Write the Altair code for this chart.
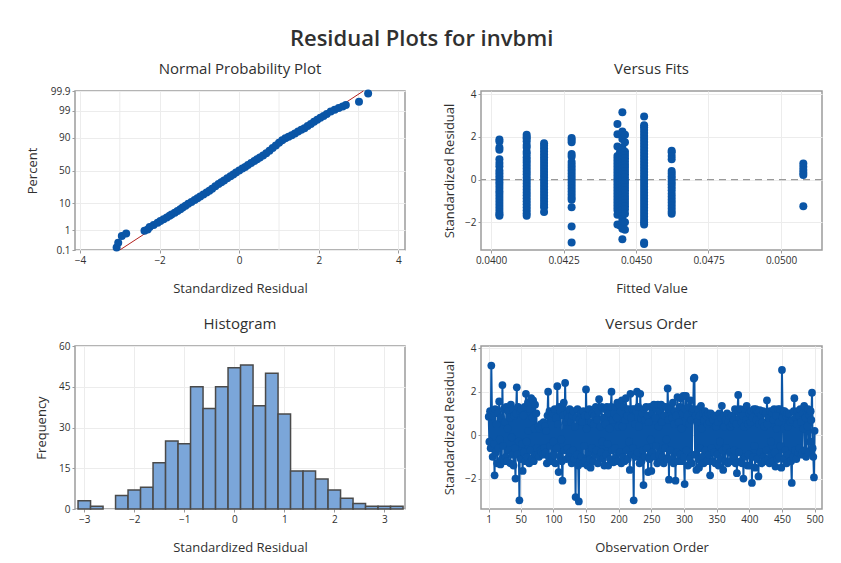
import altair as alt
import pandas as pd
from statistics import NormalDist

# ---------------- data ----------------
# Normal probability plot: standardized residual vs. percent
npp_resid = [-3.08, -3.04, -2.95, -2.84, -2.38, -2.3, -2.25, -2.15, -2.05, -1.98,
             -1.9, -1.82, -1.75, -1.7, -1.62, -1.55, -1.48, -1.42, -1.35, -1.28,
             -1.2, -1.12, -1.05, -0.98, -0.9, -0.82, -0.75, -0.68, -0.6, -0.52,
             -0.45, -0.38, -0.3, -0.22, -0.15, -0.08, 0.0, 0.08, 0.15, 0.22,
             0.3, 0.38, 0.45, 0.52, 0.6, 0.68, 0.76, 0.84, 0.92, 1.0,
             1.08, 1.16, 1.24, 1.32, 1.4, 1.48, 1.56, 1.64, 1.72, 1.8,
             1.88, 1.96, 2.04, 2.12, 2.2, 2.3, 2.4, 2.5, 2.6, 2.68,
             3.01, 3.24]
npp_pct = [0.14, 0.25, 0.54, 0.72, 0.95, 1.1, 1.4, 1.7, 2.1, 2.5,
           2.9, 3.4, 3.9, 4.4, 5.0, 5.8, 6.6, 7.5, 8.5, 9.8,
           11, 12.5, 14, 15.5, 17.5, 19.5, 21.5, 24, 27, 30,
           32.5, 35, 38, 41, 44, 47, 50, 53, 55.5, 58.5,
           61.5, 64.5, 67, 69.5, 72, 75, 78, 81, 83.5, 86,
           88, 89.5, 90.5, 91.5, 92.5, 93.5, 94.3, 95, 95.8, 96.5,
           97.1, 97.6, 98.0, 98.3, 98.6, 98.9, 99.1, 99.25, 99.35, 99.45,
           99.62, 99.86]
npp_line_resid = [-3.0, 3.12]
npp_line_pct = [0.1, 99.9]
npp_pct_ticks = [0.1, 1, 10, 50, 90, 99, 99.9]
npp_minor_grid = [-3, -1, 1, 3]

# Versus fits: one list of residuals per fitted value
vf_fits = [0.04029, 0.04123, 0.04183, 0.04278, 0.04436, 0.04445, 0.04453,
           0.04462, 0.04528, 0.04623, 0.05077]
vf_resid = [
    [1.88, 1.78, 1.5, 1.4, 0.95, 0.78, 0.62, 0.42, 0.3, 0.15, 0.02, -0.12, -0.26,
     -0.4, -0.55, -0.68, -0.82, -0.96, -1.1, -1.24, -1.38, -1.52, -1.62, -1.7],
    [2.1, 2.0, 1.92, 1.8, 1.62, 1.5, 1.3, 1.2, 1.05, 0.92, 0.8, 0.66, 0.52, 0.38,
     0.25, 0.1, -0.04, -0.18, -0.32, -0.46, -0.6, -0.74, -0.88, -1.02, -1.16,
     -1.3, -1.44, -1.58, -1.7],
    [1.7, 1.58, 1.45, 1.32, 1.18, 1.05, 0.92, 0.78, 0.64, 0.5, 0.36, 0.22, 0.08,
     -0.06, -0.2, -0.34, -0.48, -0.62, -0.76, -0.9, -1.04, -1.18, -1.3, -1.52],
    [1.95, 1.85, 1.75, 1.2, 1.08, 0.82, 0.68, 0.55, 0.42, 0.28, 0.14, 0.0, -0.14,
     -0.28, -0.42, -0.56, -0.7, -0.84, -0.95, -1.3, -2.2, -2.95],
    [2.6, 2.12, 1.55, 1.1, 0.96, 0.82, 0.68, 0.54, 0.4, 0.26, 0.12, -0.02, -0.16,
     -0.3, -0.44, -0.58, -0.72, -0.86, -1.0, -1.14, -1.28, -1.42, -1.65, -2.1],
    [1.3, 1.16, 1.02, 0.88, 0.74, 0.6, 0.46, 0.32, 0.18, 0.04, -0.1, -0.24, -0.38,
     -0.52, -0.66, -0.8, -0.94, -1.08, -1.22, -1.36, -1.5, -2.15],
    [3.15, 2.25, 1.9, 1.5, 1.36, 1.22, 1.08, 0.94, 0.8, 0.66, 0.52, 0.38, 0.24,
     0.1, -0.04, -0.18, -0.32, -0.46, -0.6, -0.74, -0.88, -1.02, -1.16, -1.3,
     -1.44, -1.58, -1.72, -1.85, -2.0, -2.3, -2.8],
    [2.1, 1.75, 1.3, 1.15, 1.0, 0.85, 0.7, 0.55, 0.4, 0.25, 0.1, -0.05, -0.2,
     -0.35, -0.5, -0.65, -0.8, -0.95, -1.1, -1.25, -1.4, -1.6, -2.0, -2.35],
    [2.95, 2.55, 2.45, 2.32, 2.18, 2.04, 1.9, 1.76, 1.62, 1.48, 1.34, 1.2, 1.06,
     0.92, 0.78, 0.64, 0.5, 0.36, 0.22, 0.08, -0.06, -0.2, -0.34, -0.48, -0.62,
     -0.76, -0.9, -1.04, -1.18, -1.32, -1.46, -1.6, -1.74, -1.88, -2.0, -2.1,
     -2.95, -3.02],
    [1.35, 1.28, 1.1, 0.95, 0.4, 0.28, 0.16, 0.04, -0.1, -0.22, -0.36, -0.5,
     -0.66, -0.8, -0.95, -1.08, -1.22, -1.36, -1.5, -1.6],
    [0.75, 0.6, 0.45, 0.32, 0.22, -1.25],
]

# Histogram: bin centres (width 0.25) and frequencies
hist_centers = [-3.0, -2.75, -2.5, -2.25, -2.0, -1.75, -1.5, -1.25, -1.0, -0.75,
                -0.5, -0.25, 0.0, 0.25, 0.5, 0.75, 1.0, 1.25, 1.5, 1.75,
                2.0, 2.25, 2.5, 2.75, 3.0, 3.25]
hist_counts = [3, 1, 0, 5, 7, 8, 17, 25, 24, 45,
               37, 45, 52, 53, 38, 50, 35, 14, 14, 11,
               7, 4, 2, 1, 1, 1]

# Versus order: standardized residual of observations 1..500
order_resid = [
    0.85, -0.3, 1.1, -0.6, 3.2, 0.9, -1.0, 1.1, -0.4, -1.85, 1.2, -0.8, 0.5, -1.3, 1.0, -0.6, 1.55, -0.2, -1.35, 0.8, -1.1, 2.3, -0.5, 1.2, -1.2,
    0.6, -1.0, 1.3, -1.2, 0.3, 1.1, -0.7, 0.8, -1.3, 1.4, -0.1, -0.9, 1.2, -1.4, 0.9, -0.6, -2.0, 1.0, 2.2, -0.9, 1.3, -0.3, -3.0, 1.1, -1.1,
    1.2, -0.4, -1.65, 0.9, -0.8, 1.3, -1.2, 1.9, -0.3, -1.0, 1.5, 0.2, -1.3, 1.2, -0.7, 1.7, -1.1, 0.8, 1.6, -1.2, 0.3, 1.4, -0.9, 1.0, -0.6,
    -0.9, 0.4, -1.0, 0.3, -0.7, 0.5, -0.8, 0.4, -0.9, 0.6, -0.6, 0.4, -0.8, 0.2, -1.3, 0.9, 2.0, -1.0, 1.1, -0.5, 0.8, -1.2, -0.95, 1.0, -0.3,
    -0.9, 1.2, -1.3, 0.8, -0.6, 2.25, 0.5, -1.7, 1.3, -1.0, 1.1, -0.2, -1.2, -2.1, 0.9, 1.5, -0.7, 2.4, 0.6, -1.1, 1.0, -0.6, 0.8, -1.0, 1.2,
    -0.8, 0.6, -1.3, 0.9, -0.7, 1.1, -1.1, 0.4, -2.85, 0.8, -0.9, 1.2, -1.4, -3.05, 0.7, -1.2, 1.0, -1.0, 0.6, -1.3, 1.1, -0.5, 0.9, -1.2, 2.1,
    0.3, -1.4, 0.9, -0.8, 1.2, -1.1, -1.5, 0.6, -0.6, 1.0, -1.2, 0.5, 0.9, -0.9, 1.3, -0.7, 0.7, -1.3, 1.1, 1.65, -1.0, 0.4, -0.8, 1.3, -0.3,
    -1.1, 0.8, -1.4, 1.2, 0.5, -0.9, 1.3, -0.4, -1.4, 1.0, 0.3, -1.1, 1.3, 2.0, -0.7, 0.7, -1.25, 1.0, -0.6, 1.3, -1.0, 0.8, 1.5, -1.2, 0.4,
    1.4, -0.8, 1.1, -1.3, 1.6, 0.4, -1.0, 1.3, -1.2, 0.7, 1.7, -0.7, 0.9, -1.1, 1.2, -0.3, -1.6, 1.9, 0.8, -0.9, 1.2, -0.6, -3.0, 1.2, 0.5,
    -1.0, 1.1, 2.0, -0.8, 1.3, 0.4, -1.3, 1.9, 0.8, -1.2, 1.0, -0.7, -2.3, 1.2, -1.0, 0.7, 1.3, -0.6, 0.9, -1.7, 0.6, -1.1, 1.3, -0.2, -1.65,
    1.0, -0.8, 1.3, 1.4, -1.0, 0.8, -0.5, 1.2, -1.3, 1.4, 0.4, -0.9, 1.1, -1.2, 1.4, 0.6, -1.0, 1.3, -1.3, 0.9, -0.6, 1.3, -0.2, -1.1, 2.15,
    0.7, -2.05, 1.2, -0.7, 1.3, -1.1, 0.8, 1.5, -1.3, 0.5, 1.1, -2.1, 0.9, -0.8, 1.75, -1.2, 0.6, 1.3, -0.9, 1.7, 0.3, -1.2, 1.0, 1.8, -1.0,
    -2.25, 1.2, 1.8, -0.7, 0.9, -1.4, 1.3, 0.5, -1.1, 1.6, 0.7, -1.3, 1.1, 1.2, 2.6, 2.65, -0.9, 0.9, -1.6, 0.6, 1.2, -1.1, -1.5, 0.9, -0.6,
    1.35, 0.3, -1.0, 1.0, -1.3, 0.7, 1.1, -0.7, 0.9, -1.2, 0.5, 1.0, -0.9, 0.6, -1.85, 1.0, -0.6, 0.8, -1.2, 0.7, -0.8, 0.9, -1.3, 0.4, 0.9,
    -0.9, 0.6, -1.4, 1.0, -0.3, -1.1, 0.8, 1.35, -0.7, -1.6, 0.9, 0.4, -1.2, 0.7, -0.6, 1.0, -1.3, 0.6, 0.9, -0.8, 0.4, -1.2, 0.9, 0.5, -1.0,
    0.7, -0.7, 1.2, -1.3, 0.5, -1.75, 1.1, 1.85, -0.8, 0.8, 1.2, -1.2, 0.6, -1.3, 0.9, -2.0, 0.4, 1.2, -1.0, 0.7, 1.35, -1.4, 0.5, -0.9, 1.0,
    -1.4, 0.6, 1.1, -2.2, 0.8, -1.0, 1.2, -0.5, -1.5, 1.2, 0.7, -1.1, 1.1, -1.9, 0.5, 1.15, -0.8, 0.9, -1.3, 0.6, 1.1, -1.0, 0.4, -1.2, 1.0,
    -0.7, 1.6, 0.5, -1.1, 0.8, -1.3, 1.1, -0.3, -0.9, 1.0, -1.2, 0.7, 1.2, -0.8, -1.45, 0.9, 0.3, -1.1, 1.2, 0.6, -1.0, 1.2, -0.5, -1.5, 3.0,
    0.8, 1.1, -1.1, 1.1, -0.7, 0.9, -1.3, 1.0, 0.4, -0.9, 1.0, -1.2, 0.6, -1.2, -2.2, 0.7, -1.0, 1.1, 1.7, -0.7, 0.8, -1.1, 0.5, 1.1, -0.8,
    0.9, -0.6, 1.2, 0.6, -0.9, -0.8, 1.0, 0.3, 1.35, -0.7, 0.8, -1.0, 1.1, 0.4, 1.2, -0.8, 0.9, -0.3, 1.1, 0.7, 1.95, -0.6, -1.0, -1.95, 0.2,
]
order_ticks = [1, 50, 100, 150, 200, 250, 300, 350, 400, 450, 500]

# ---------------- styling ----------------
FONT = "Open Sans"
TXT = "#303030"
BLUE = "#0a55a6"
GRID = "#ececec"
FRAME = "#9c9c9c"
WL, WR, HT, HB = 330, 341, 159, 163


def sub_title(text, dy=0):
    return alt.TitleParams(text, fontSize=15, font=FONT, fontWeight="normal",
                           color=TXT, offset=9, anchor="middle", dy=dy)


def xaxis(title, values, **kw):
    return alt.Axis(values=values, title=title, titleY=38, titleBaseline="middle", **kw)


def yaxis(title, values, tx, **kw):
    return alt.Axis(values=values, title=title, titleX=tx, titleBaseline="middle", **kw)


# ---------------- Normal probability plot ----------------
z_ticks = [NormalDist().inv_cdf(p / 100) for p in npp_pct_ticks]
zcalc = "quantileNormal(datum.pct / 100)"
npp_df = pd.DataFrame({"res": npp_resid, "pct": npp_pct})
npp_line_df = pd.DataFrame({"res": npp_line_resid, "pct": npp_line_pct})
npp_minor_df = pd.DataFrame({"res": npp_minor_grid})

npp_x = alt.X("res:Q", scale=alt.Scale(domain=[-4.126, 4.166], nice=False, zero=False),
              axis=xaxis("Standardized Residual", [-4, -2, 0, 2, 4]))
npp_y = alt.Y("z:Q", scale=alt.Scale(domain=[z_ticks[0], z_ticks[-1]], nice=False, zero=False),
              axis=yaxis("Percent", z_ticks, -43,
                         labelExpr="round(cumulativeNormal(datum.value) * 1000) / 10 + ''"))

npp_minor = alt.Chart(npp_minor_df).mark_rule(color=GRID, strokeWidth=1).encode(x=npp_x)
npp_line = (alt.Chart(npp_line_df).transform_calculate(z=zcalc)
            .mark_line(color="#b3201c", strokeWidth=1).encode(x=npp_x, y=npp_y))
npp_pts = (alt.Chart(npp_df).transform_calculate(z=zcalc)
           .mark_circle(size=64, color=BLUE, opacity=1).encode(x=npp_x, y=npp_y))
npp = alt.layer(npp_minor, npp_line, npp_pts).properties(
    width=WL, height=HT, title=sub_title("Normal Probability Plot"))

# ---------------- Versus fits ----------------
vf_rows = [(f, r) for f, rs in zip(vf_fits, vf_resid) for r in rs]
vf_df = pd.DataFrame(vf_rows, columns=["fit", "res"])
vf_x = alt.X("fit:Q", scale=alt.Scale(domain=[0.039655, 0.051414], nice=False, zero=False),
             axis=xaxis("Fitted Value", [0.04, 0.0425, 0.045, 0.0475, 0.05], format=".4f"))
vf_y = alt.Y("res:Q", scale=alt.Scale(domain=[-3.3, 4.15], nice=False, zero=False),
             axis=yaxis("Standardized Residual", [-2, 0, 2, 4], -32))
vf_ref = (alt.Chart(pd.DataFrame({"res": [0]}))
          .mark_rule(color="#999999", strokeDash=[7, 5], strokeWidth=1.2).encode(y=vf_y))
vf_pts = alt.Chart(vf_df).mark_circle(size=64, color=BLUE, opacity=1).encode(x=vf_x, y=vf_y)
vf = alt.layer(vf_ref, vf_pts).properties(width=WR, height=HT,
                                          title=sub_title("Versus Fits", dy=-3))

# ---------------- Histogram ----------------
hist_df = pd.DataFrame({"center": hist_centers, "count": hist_counts})
hist = (alt.Chart(hist_df)
        .transform_filter("datum.count > 0")
        .transform_calculate(x0="datum.center - 0.125", x1="datum.center + 0.125")
        .mark_bar(fill="#7ba6d9", stroke="#4a4a4a", strokeWidth=1.5)
        .encode(
            x=alt.X("x0:Q", scale=alt.Scale(domain=[-3.186, 3.414], nice=False, zero=False),
                    axis=xaxis("Standardized Residual", [-3, -2, -1, 0, 1, 2, 3])),
            x2="x1:Q",
            y=alt.Y("count:Q", scale=alt.Scale(domain=[0, 60], nice=False),
                    axis=yaxis("Frequency", [0, 15, 30, 45, 60], -34)),
            y2=alt.datum(0),
        )
        .properties(width=WL, height=HB, title=sub_title("Histogram")))

# ---------------- Versus order ----------------
vo_df = pd.DataFrame({"obs": list(range(1, len(order_resid) + 1)), "res": order_resid})
vo_x = alt.X("obs:Q", scale=alt.Scale(domain=[-10.8, 511.3], nice=False, zero=False),
             axis=xaxis("Observation Order", order_ticks))
vo_y = alt.Y("res:Q", scale=alt.Scale(domain=[-3.4, 4.1], nice=False, zero=False),
             axis=yaxis("Standardized Residual", [-2, 0, 2, 4], -32))
vo_line = alt.Chart(vo_df).mark_line(color=BLUE, strokeWidth=2).encode(x=vo_x, y=vo_y)
vo_pts = alt.Chart(vo_df).mark_circle(size=60, color=BLUE, opacity=1).encode(x=vo_x, y=vo_y)
vo = alt.layer(vo_line, vo_pts).properties(width=WR, height=HB,
                                           title=sub_title("Versus Order", dy=-2))

# ---------------- assemble ----------------
chart = (
    alt.concat(npp, vf, hist, vo, columns=2, spacing={"row": 96, "column": 76}, bounds="flush",
               title=alt.TitleParams("Residual Plots for invbmi", fontSize=22, font=FONT,
                                     fontWeight=600, color=TXT, anchor="middle", dx=-3,
                                     offset=10))
    .properties(padding={"left": 25, "top": 28, "right": 10, "bottom": 10}, background="white")
    .configure_view(stroke=FRAME, strokeWidth=1.5)
    .configure_axis(labelFont=FONT, labelFontSize=10, labelColor=TXT, titleFont=FONT,
                    titleFontSize=13, titleFontWeight="normal", titleColor=TXT,
                    tickColor=FRAME, tickSize=3, labelPadding=2, domain=False,
                    gridColor=GRID, gridWidth=1)
)

chart.save("out.html", embed_options={"renderer": "svg", "actions": False})
